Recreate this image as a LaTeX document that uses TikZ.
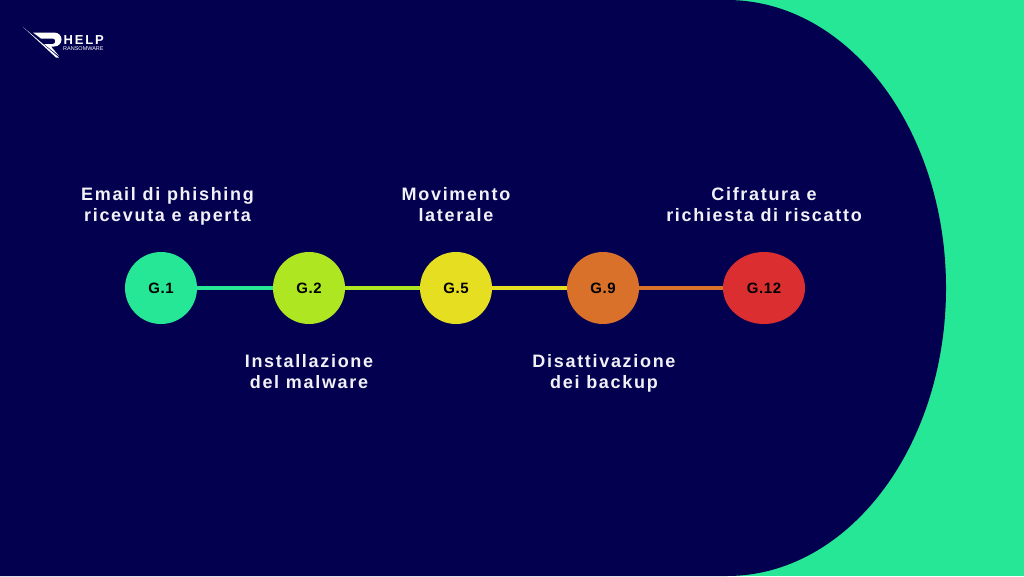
\documentclass[tikz,border=0pt]{standalone}
\usepackage{fontspec}
\setmainfont{Liberation Sans}
\newfontfamily\labelfont[LetterSpace=9.4]{Liberation Sans}
\newfontfamily\weekfont[LetterSpace=4]{Liberation Sans}
\newfontfamily\logofont[LetterSpace=14]{Liberation Sans}
\usetikzlibrary{positioning,shapes.geometric}

\definecolor{navy}{HTML}{03004F}
\definecolor{mint}{HTML}{25E795}
\definecolor{lime}{HTML}{AEE722}
\definecolor{mustard}{HTML}{E6DE20}
\definecolor{copper}{HTML}{D9712B}
\definecolor{alarm}{HTML}{DB2E30}
\definecolor{paper}{HTML}{F1F1F7}

\tikzset{
    week/.style={circle,inner sep=0,minimum size=72pt,font=\fontsize{15}{16}\weekfont\bfseries,text=black},
    lastweek/.style={ellipse,inner sep=0,minimum width=82pt,minimum height=72pt,font=\fontsize{15}{16}\weekfont\bfseries,text=black},
    link/.style={line width=4pt},
    event/.style={inner sep=0,align=center,text=paper,text depth=5pt,font=\fontsize{18}{21}\labelfont\bfseries}
    }

\begin{document}
\begin{tikzpicture}[x=1pt,y=-1pt]
                \useasboundingbox (0,0) rectangle (1024,576);
                % The background
                \fill[mint] (0,0) rectangle (1024,576);
                \fill[navy] (0,0) -- (727,0) arc[start angle=90,end angle=-90,x radius=219pt,y radius=288pt] -- (0,576) -- cycle;
                % The logo
                \fill[white] (23,27) -- (59,57.5) -- (56,57.5) -- cycle;
                \fill[white] (33,32.5) -- (54,32.5) .. controls (64,32.5) and (64,46.5) .. (54,46.5) -- (51,46.5) -- (59,56) -- (44,44) -- (53,44) .. controls (56,44) and (56,38.5) .. (53,38.5) -- (41,38.5) -- cycle;
                \node(help)[inner sep=0,anchor=west,text=white,font=\fontsize{13}{13}\logofont\bfseries] at (63.5,40.5){HELP};
                \node(ransomware)[inner sep=0,anchor=west,text=white,font=\fontsize{5.5}{6}\selectfont] at (63,49){RANSOMWARE};
                % The weeks
                \node(g1)[week,fill=mint] at (161,288){G.1};
                \node(g2)[week,fill=lime] at (309,288){G.2};
                \node(g5)[week,fill=mustard] at (456,288){G.5};
                \node(g9)[week,fill=copper] at (603,288){G.9};
                \node(g12)[lastweek,fill=alarm] at (764,288){G.12};
                \draw[link,mint] (g1) -- (g2);
                \draw[link,lime] (g2) -- (g5);
                \draw[link,mustard] (g5) -- (g9);
                \draw[link,copper] (g9) -- (g12);
                % The events
                \node(phishing)[event,above=25pt of g1,xshift=6.5pt]{Email di phishing\\ricevuta e aperta};
                \node(malware)[event,below=30pt of g2]{Installazione\\del malware};
                \node(lateral)[event,above=25pt of g5]{Movimento\\laterale};
                \node(backup)[event,below=30pt of g9,xshift=1pt]{Disattivazione\\dei backup};
                \node(ransom)[event,above=25pt of g12]{Cifratura e\\richiesta di riscatto};
            \end{tikzpicture}
\end{document}
